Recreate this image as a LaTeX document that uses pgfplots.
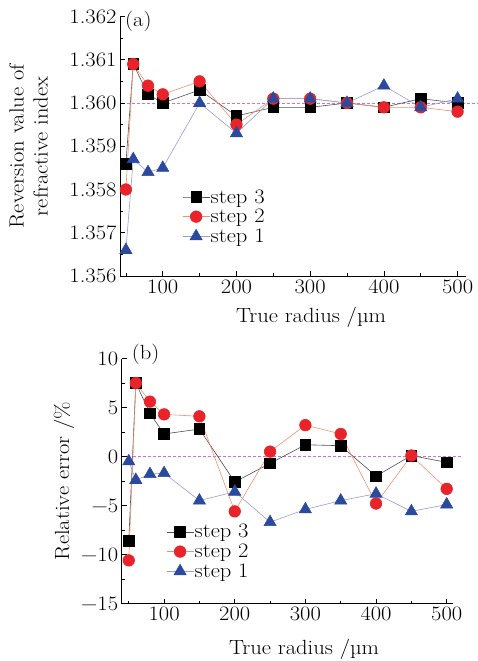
\documentclass[border=0pt]{standalone}
\usepackage{fontspec}
\setmainfont[FakeStretch=1.1]{Latin Modern Roman}
\usepackage{pgfplots}
\pgfplotsset{compat=1.18}
\definecolor{c3line}{HTML}{505050}
\definecolor{c2mark}{HTML}{E8242A}
\definecolor{c2line}{HTML}{F09070}
\definecolor{c1mark}{HTML}{2B4A9E}
\definecolor{c1line}{HTML}{9A9AD8}
\definecolor{dashc}{HTML}{D070D0}
\pgfplotsset{
  myax/.style={
    scale only axis, axis lines*=left, clip=false,
    font=\fontsize{20.5}{24}\selectfont,
    xtick={100,200,300,400,500}, minor xtick={50,150,250,350,450},
    minor y tick num=1,
    major tick length=5pt, minor tick length=3pt,
    tick style={black, line width=0.6pt},
    axis line style={line width=0.8pt},
    /pgf/number format/assume math mode=true,
    legend cell align=left,
    legend image code/.code={\draw[mark repeat=2,mark phase=2] plot coordinates {(0pt,0pt)(13.5pt,0pt)(27pt,0pt)};},
    legend style={draw=none, fill=none, anchor=north west, nodes={inner sep=0.8pt}},
    xlabel={True radius /µm},
  },
  s3/.style={color=c3line, line width=0.6pt, mark=square*, mark size=5.3pt, mark options={fill=black, draw=black, solid}},
  s2/.style={color=c2line, line width=0.6pt, mark=*, mark size=5.8pt, mark options={fill=c2mark, draw=c2mark, solid}},
  s1/.style={color=c1line, line width=0.6pt, mark=triangle*, mark size=7pt, mark options={fill=c1mark, draw=c1mark, solid}},
}
\begin{document}
\begin{tikzpicture}
\useasboundingbox (-120pt,-385pt) rectangle (357pt,276pt);
% ---------------- (a)
\begin{axis}[myax,
  at={(0pt,0pt)}, anchor=south west,
  width=345.7pt, height=259.5pt,
  xmin=42, xmax=511, ymin=1.356, ymax=1.362,
  ytick={1.356,1.357,1.358,1.359,1.360,1.361,1.362},
  yticklabels={1.356,1.357,1.358,1.359,1.360,1.361,1.362},
  ylabel={Reversion value of\\refractive index},
  ylabel style={align=center, at={(axis description cs:-0.265,0.5)}, anchor=center},
  xlabel style={at={(axis description cs:0.5525,0)}, anchor=center, yshift=-41pt},
  legend style={at={(axis description cs:0.171,0.345)}, row sep=3pt},
]
\addplot[dashc, dash pattern=on 3pt off 2pt, line width=0.6pt, forget plot] coordinates {(51,1.360) (526,1.360)};
\addplot[s3] coordinates {(50,1.3586) (60,1.3609) (80,1.3602) (100,1.3600) (150,1.3603) (200,1.3597) (250,1.3599) (300,1.3599) (350,1.3600) (400,1.3599) (450,1.3601) (500,1.3600)};
\addplot[s2] coordinates {(50,1.3580) (60,1.3609) (80,1.3604) (100,1.3602) (150,1.3605) (200,1.3595) (250,1.3601) (300,1.3601) (350,1.3600) (400,1.3599) (450,1.3599) (500,1.3598)};
\addplot[s1] coordinates {(50,1.3566) (60,1.3587) (80,1.3584) (100,1.3585) (150,1.3600) (200,1.3593) (250,1.3601) (300,1.3601) (350,1.3600) (400,1.3604) (450,1.3599) (500,1.3601)};
\legend{step 3, step 2, step 1}
\node[anchor=west, inner sep=0pt] at (axis description cs:0.0145,0.983) {(a)};
\end{axis}
% ---------------- (b)
\begin{axis}[myax,
  at={(1.7pt,-327.5pt)}, anchor=south west,
  width=331pt, height=245pt,
  xmin=40, xmax=508.5, ymin=-15, ymax=10,
  ytick={-15,-10,-5,0,5,10},
  yticklabels={−15,−10,−5,0,5,10},
  ylabel={Relative error /\%},
  ylabel style={at={(axis description cs:-0.174,0.5)}, anchor=center},
  xlabel style={at={(axis description cs:0.551,0)}, anchor=center, yshift=-45.5pt},
  legend style={at={(axis description cs:0.125,0.335)}, row sep=3pt},
]
\addplot[dashc, dash pattern=on 3pt off 2pt, line width=0.6pt, forget plot] coordinates {(56,0) (521,0)};
\addplot[s3] coordinates {(50,-8.6) (60,7.5) (80,4.4) (100,2.3) (150,2.8) (200,-2.6) (250,-0.7) (300,1.2) (350,1.1) (400,-2.0) (450,0.1) (500,-0.6)};
\addplot[s2] coordinates {(50,-10.6) (60,7.5) (80,5.6) (100,4.3) (150,4.1) (200,-5.6) (250,0.5) (300,3.2) (350,2.3) (400,-4.8) (450,0.1) (500,-3.3)};
\addplot[s1] coordinates {(50,-0.5) (60,-2.4) (80,-1.8) (100,-1.7) (150,-4.5) (200,-3.6) (250,-6.7) (300,-5.4) (350,-4.5) (400,-3.8) (450,-5.6) (500,-4.9)};
\legend{step 3, step 2, step 1}
\node[anchor=west, inner sep=0pt] at (axis description cs:0.030,1.018) {(b)};
\end{axis}
\end{tikzpicture}
\end{document}
